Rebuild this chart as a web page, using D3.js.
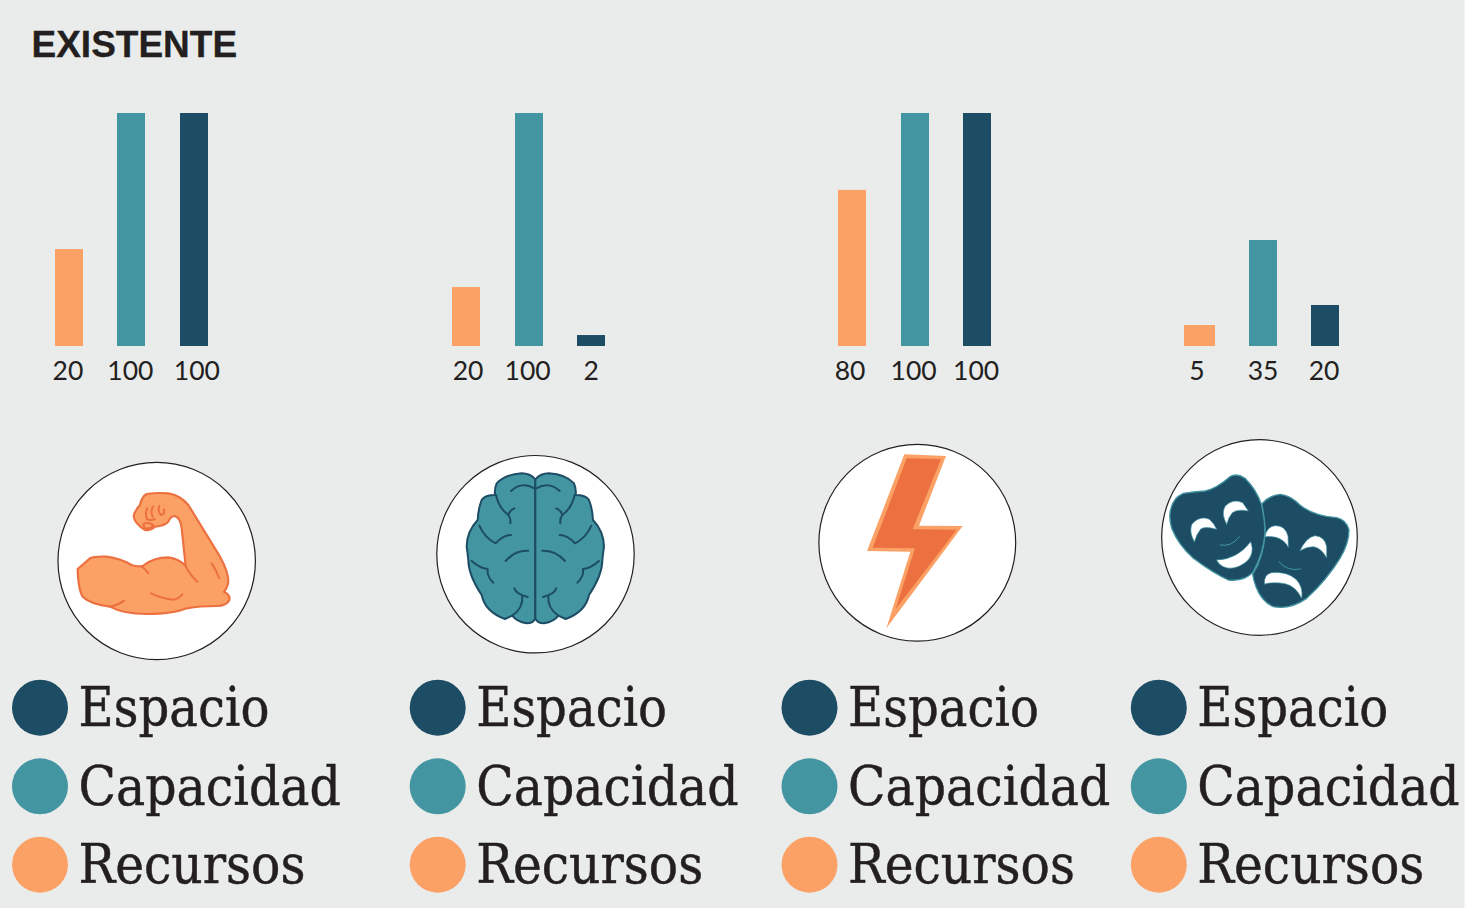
<!DOCTYPE html>
<html lang="es">
<head>
	<meta charset="UTF-8"/>
	<title>Existente</title>
	<script src="https://d3js.org/d3.v7.min.js"></script>
	<style>
		html, body { margin: 0; padding: 0; background: #ffffff; }
		svg { display: block; }
	</style>
</head>
<body>
<script>
	// One entry per panel: muscle, brain, lightning, masks
	var panels = ["fuerza", "mente", "energia", "arte"];
	var series = ["Recursos", "Capacidad", "Espacio"];
	var legendOrder = ["Espacio", "Capacidad", "Recursos"];

	// Printed numbers under the bars
	var recursosLabels = [20, 20, 80, 5];
	var capacidadLabels = [100, 100, 100, 35];
	var espacioLabels = [100, 2, 100, 20];

	// Bar lengths (0-100 of the tallest bar).
	// They do not follow the printed numbers, so they are kept apart
	var recursosValues = [41.6, 25.3, 67, 9];
	var capacidadValues = [100, 100, 100, 45.5];
	var espacioValues = [100, 4.7, 100, 17.6];

	var w = 1483;
	var h = 908;
	var bgWidth = 1464.5;

	var colors = { Recursos: "#fca166", Capacidad: "#4295a1", Espacio: "#1d4c65" };
	var ink = "#231f20";
	var flame = "#ec7040";

	// Layout of each panel
	var barRanges = [[55, 207.8], [452, 605.2], [838, 991.2], [1187, 1339]];
	var labelNudge = [[-1, -1, 3], [2, -1, 0], [-2, -1, -1], [-4, 0, -1]];
	var iconCircles = [[156.7, 561], [535.5, 554.2], [917.3, 542.7], [1259.5, 537.5]];
	var iconRadius = [98.7, 98.7, 98.4, 97.8];
	var iconOrigins = [[40, 450], [425, 445], [805, 435], [1150, 430]];
	var legendX = [40, 437.7, 809.5, 1158.8];
	var legendY = { Espacio: 707.7, Capacidad: 786.3, Recursos: 864.7 };
	var legendWidth = { Espacio: 191, Capacidad: 262.5, Recursos: 227 };

	var drawIcon = { fuerza: fuerzaIcon, mente: menteIcon, energia: energiaIcon, arte: arteIcon };

	var svg = d3.select("body")
				.append("svg")
				.attr("width", w)
				.attr("height", h);

	svg.append("rect")
		.attr("width", bgWidth)
		.attr("height", h)
		.attr("fill", "#eaeceb");

	svg.append("text")
		.attr("x", 31.5)
		.attr("y", 56.5)
		.attr("font-family", "'Liberation Sans', Arial, sans-serif")
		.attr("font-weight", "bold")
		.attr("font-size", 37)
		.attr("fill", ink)
		.attr("stroke", ink)
		.attr("stroke-width", 0.3)
		.text("EXISTENTE");

	var yScale = d3.scaleLinear()
				.domain([0, 100])
				.range([346, 113]);

	var values = { Recursos: recursosValues, Capacidad: capacidadValues, Espacio: espacioValues };
	var labels = { Recursos: recursosLabels, Capacidad: capacidadLabels, Espacio: espacioLabels };

	panels.forEach(function(panel, p) {
		var xScale = d3.scaleBand()
					.domain(series)
					.range(barRanges[p])
					.paddingInner(0.552);
		var barWidth = Math.round(xScale.bandwidth());

		var g = svg.append("g").attr("class", "panel-" + panel);

		g.selectAll("rect")
			.data(series)
			.enter()
			.append("rect")
			.attr("x", function(d) { return Math.round(xScale(d)); })
			.attr("y", function(d) { return yScale(values[d][p]); })
			.attr("width", barWidth)
			.attr("height", function(d) { return yScale(0) - yScale(values[d][p]); })
			.attr("fill", function(d) { return colors[d]; });

		// the short orange bar in the last panel is drawn a little wider
		if (panel == "arte") {
			g.select("rect")
				.attr("x", Math.round(xScale("Recursos")) - 3)
				.attr("width", barWidth + 3);
		}

		var xAxis = d3.axisBottom(xScale)
					.tickSize(0)
					.tickPadding(15)
					.tickFormat(function(d) { return labels[d][p]; });

		var axis = g.append("g")
					.attr("transform", "translate(0," + yScale(0) + ")")
					.call(xAxis);
		axis.select(".domain").remove();
		axis.selectAll("text")
			.attr("dx", function(d, i) { return labelNudge[p][i]; })
			.attr("font-family", "Lato, sans-serif")
			.attr("font-size", 26.5)
			.attr("fill", ink);

		// white disc behind the icon
		svg.append("circle")
			.attr("cx", iconCircles[p][0])
			.attr("cy", iconCircles[p][1])
			.attr("r", iconRadius[p])
			.attr("fill", "#ffffff")
			.attr("stroke", ink)
			.attr("stroke-width", 1.2);

		// icon paths were traced at 3x
		var icon = svg.append("g")
					.attr("transform", "translate(" + iconOrigins[p][0] + "," + iconOrigins[p][1] + ") scale(" + (1 / 3) + ")")
					.attr("stroke-linecap", "round")
					.attr("stroke-linejoin", "round");
		drawIcon[panel](icon);

		// legend
		var legend = svg.append("g");
		legend.selectAll("circle")
			.data(legendOrder)
			.enter()
			.append("circle")
			.attr("cx", legendX[p])
			.attr("cy", function(d) { return legendY[d]; })
			.attr("r", 28)
			.attr("fill", function(d) { return colors[d]; });
		legend.selectAll("text")
			.data(legendOrder)
			.enter()
			.append("text")
			.attr("font-family", "'DejaVu Serif', serif")
			.attr("font-size", 54)
			.attr("fill", ink)
			.attr("stroke", ink)
			.attr("stroke-width", 0.5)
			.text(function(d) { return d; })
			// the slab font of the original is narrower, squeeze to its width
			.attr("transform", function(d) {
				var sx = legendWidth[d] / this.getComputedTextLength();
				return "translate(" + (legendX[p] + 38.5) + "," + (legendY[d] + 18.6) + ") scale(" + sx + ",1)";
			});
	});

	function strokes(g, list, color, width) {
		g.selectAll(null)
			.data(list)
			.enter()
			.append("path")
			.attr("d", function(d) { return d; })
			.attr("fill", "none")
			.attr("stroke", color)
			.attr("stroke-width", width);
	}

	function fuerzaIcon(g) {
		g.append("path")
			.attr("d", "M113 357 L150 325 Q165 318 200 320 Q240 325 275 345 Q295 352 310 347 Q340 322 385 322 Q415 325 437 348 L425 235 Q422 205 405 198 Q392 198 385 215 Q375 228 345 230 Q330 243 315 240 Q285 222 281 200 Q282 185 300 165 Q305 140 320 132 Q350 127 385 130 Q420 135 445 165 L540 320 Q565 365 565 395 Q562 415 552 425 Q572 435 568 450 Q560 468 530 468 Q480 468 440 475 Q400 492 320 492 Q250 492 210 470 Q150 462 128 440 Q115 420 113 357 Z")
			.attr("fill", colors.Recursos)
			.attr("stroke", flame)
			.attr("stroke-width", 6.5);
		strokes(g, [
			"M305 350 Q318 358 325 370",
			"M437 348 Q450 375 472 395",
			"M515 340 Q525 355 538 385",
			"M333 430 Q370 447 400 449 Q415 447 427 433",
			"M210 470 Q235 465 253 452",
			"M322 175 Q315 185 320 205",
			"M340 170 Q330 180 338 200",
			"M358 168 Q352 180 362 195 Q375 195 372 178",
			"M320 208 Q335 212 345 207",
			"M310 222 Q325 215 340 225 Q330 238 318 235 Q310 230 310 222"
		], flame, 6);
	}

	function menteIcon(g) {
		var outline = "M331 103 Q315 85 290 85 Q240 88 215 115 Q208 130 210 150 Q180 150 170 165 Q160 190 158 225 Q125 260 125 305 Q128 325 130 345 Q130 390 170 450 Q180 500 240 522 L262 512 Q275 530 305 535 Q325 535 331 520 Z";
		var folds = [
			"M258 138 Q290 108 328 130",
			"M213 150 Q222 190 250 210 Q258 220 256 235",
			"M250 210 Q255 195 268 190",
			"M163 242 Q180 280 212 295 Q235 270 258 270",
			"M242 348 Q270 315 310 317",
			"M140 348 Q165 370 188 372 Q185 395 205 413",
			"M268 430 Q275 448 308 456",
			"M292 452 Q295 490 262 512"
		];
		[g.append("g"), g.append("g").attr("transform", "translate(662,0) scale(-1,1)")].forEach(function(side) {
			side.append("path")
				.attr("d", outline)
				.attr("fill", colors.Capacidad)
				.attr("stroke", colors.Espacio)
				.attr("stroke-width", 6);
			strokes(side, folds, colors.Espacio, 6);
		});
	}

	function energiaIcon(g) {
		g.append("path")
			.attr("d", "M298 58 L423 63 L342 272 L473 273 L244 580 L316 350 L186 348 Z")
			.attr("fill", colors.Recursos);
		g.append("path")
			.attr("d", "M305 70 L408 72 L323 283 L455 284 L272 522 L330 340 L203 338 Z")
			.attr("fill", flame);
	}

	function arteIcon(g) {
		var faces = [
			"M335 222 Q360 195 390 193 Q420 195 450 225 Q490 258 560 263 Q590 270 597 300 Q597 340 570 385 Q530 450 470 505 Q420 540 370 530 Q335 515 318 470 Q310 450 308 432 Q340 385 345 310 Q345 265 335 222 Z",
			"M60 250 Q65 205 100 190 Q130 185 165 183 Q200 175 240 140 Q260 128 285 145 Q320 180 335 225 Q345 270 345 310 Q340 370 310 425 Q285 455 235 450 Q190 430 130 385 Q85 345 65 295 Q58 270 60 250 Z"
		];
		var holes = [
			"M133 335 Q116 305 126 282 Q150 255 178 268 Q192 280 200 298 Q168 288 152 297 Q140 312 133 335 Z",
			"M230 283 Q212 250 226 228 Q250 205 278 218 L295 243 Q262 236 247 248 Q235 262 230 283 Z",
			"M200 390 Q262 388 302 335 Q316 372 287 397 Q250 424 220 410 Q206 404 200 390 Z",
			"M345 320 Q350 290 375 287 Q405 285 414 318 L415 352 Q402 328 378 322 Q360 318 345 320 Z",
			"M450 362 Q468 322 495 317 Q525 320 530 350 L530 383 Q512 352 490 350 Q470 350 450 362 Z",
			"M343 462 Q342 432 365 428 Q412 424 438 448 Q460 470 455 505 Q437 468 405 461 Q370 455 343 462 Z"
		];
		g.selectAll(null)
			.data(faces)
			.enter()
			.append("path")
			.attr("d", function(d) { return d; })
			.attr("fill", colors.Espacio)
			.attr("stroke", colors.Capacidad)
			.attr("stroke-width", 4);
		g.selectAll(null)
			.data(holes)
			.enter()
			.append("path")
			.attr("d", function(d) { return d; })
			.attr("fill", "#ffffff")
			.attr("stroke", colors.Capacidad)
			.attr("stroke-width", 2);
		strokes(g, ["M210 345 Q245 352 268 320", "M387 395 Q410 425 452 417"], colors.Capacidad, 3);
	}
</script>
</body>
</html>
